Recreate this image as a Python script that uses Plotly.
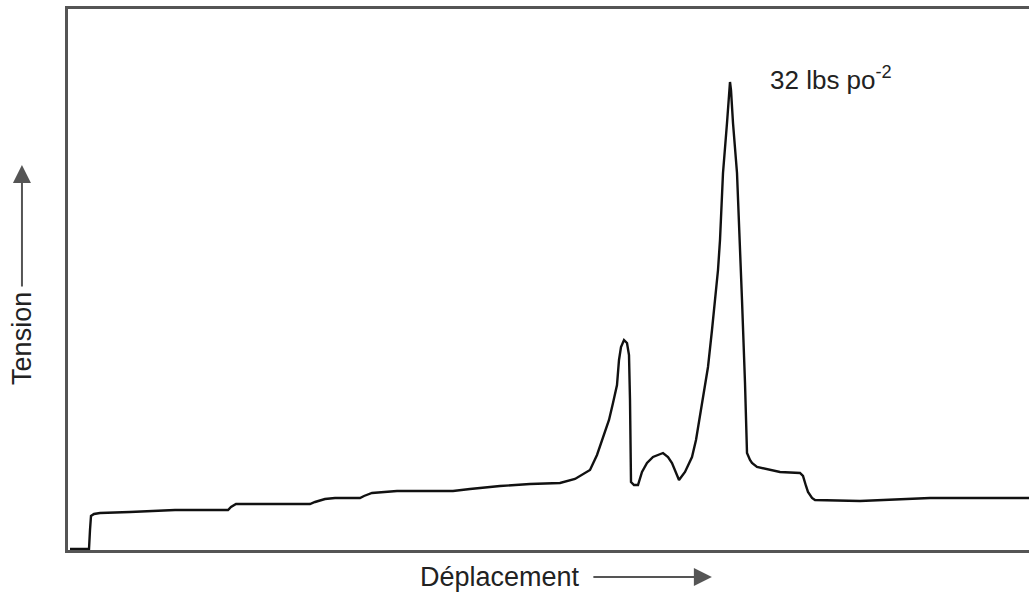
import plotly.graph_objects as go

# Displacement (arbitrary units) and tension (arbitrary units)
displacement = [0.2, 2.1, 2.2, 2.3, 2.6, 3.2, 6.2, 8.2, 10.7, 13.2, 16.0, 16.3, 16.8, 19.2, 22.2,
                24.2, 24.7, 25.7, 26.7, 29.2, 29.6, 30.4, 32.9, 36.2, 38.5, 40.2, 43.2, 46.2,
                49.2, 50.7, 52.2, 52.9, 53.5, 54.1, 54.5, 54.9, 55.1, 55.3, 55.6, 55.9, 56.1,
                56.2, 56.3, 56.6, 57.0, 57.4, 57.9, 58.5, 59.5, 60.0, 60.4, 60.8, 61.1, 61.7,
                62.4, 62.8, 63.2, 63.6, 64.0, 64.4, 64.7, 65.0, 65.2, 65.5, 65.9, 66.1, 66.2,
                66.3, 66.5, 66.9, 67.2, 67.4, 67.7, 67.9, 68.2, 68.4, 68.9, 70.2, 71.2, 73.2,
                73.5, 73.8, 74.0, 74.4, 74.7, 79.2, 81.5, 83.2, 86.2, 96.1]
tension = [0.1, 0.1, 2.0, 3.4, 3.6, 3.7, 3.8, 3.9, 4.0, 4.0, 4.0, 4.3, 4.6, 4.6, 4.6,
           4.6, 4.8, 5.1, 5.2, 5.2, 5.4, 5.7, 5.9, 5.9, 5.9, 6.1, 6.4, 6.6,
           6.7, 7.1, 8.0, 9.5, 11.3, 13.0, 14.7, 16.5, 19.0, 20.3, 21.0, 20.7, 19.5,
           15.0, 6.8, 6.5, 6.5, 7.8, 8.7, 9.3, 9.7, 9.3, 8.7, 7.8, 7.0, 7.8,
           9.3, 11.0, 13.3, 15.8, 18.3, 22.0, 25.0, 28.0, 31.0, 37.7, 42.7, 46.0, 46.8,
           46.0, 42.7, 37.7, 31.0, 25.0, 16.7, 9.7, 9.0, 8.7, 8.3, 8.0, 7.8, 7.7,
           7.4, 6.4, 5.8, 5.2, 5.0, 4.9, 5.0, 5.0, 5.2, 5.2]

x_title = "Déplacement"
y_title = "Tension"
peak_label = "32 lbs po<sup>-2</sup>"

FONT = "Liberation Sans, Arial, Helvetica, sans-serif"
FRAME = "#555555"
TXT = "#222222"

fig = go.Figure()
fig.add_trace(go.Scatter(x=displacement, y=tension, mode="lines",
                         line=dict(color="#111111", width=2.4), hoverinfo="skip"))

fig.update_layout(
    width=1029, height=605,
    margin=dict(l=68, r=0, t=9, b=55),
    paper_bgcolor="white", plot_bgcolor="white",
    showlegend=False,
    xaxis=dict(range=[0, 96.1], showgrid=False, zeroline=False, showticklabels=False,
               ticks="", showline=True, linecolor=FRAME, linewidth=3, mirror=True),
    yaxis=dict(range=[0, 54.1], showgrid=False, zeroline=False, showticklabels=False,
               ticks="", showline=True, linecolor=FRAME, linewidth=3, mirror=False),
    font=dict(family=FONT, color=TXT),
)

# peak label
fig.add_annotation(xref="paper", yref="paper", x=0.7284, y=0.872, xanchor="left", yanchor="middle",
                   text=peak_label, showarrow=False, font=dict(size=26, family=FONT, color=TXT))

# x axis title and arrow
fig.add_annotation(xref="paper", yref="paper", x=0.4495, y=-0.050, xanchor="center", yanchor="middle",
                   text=x_title, showarrow=False, font=dict(size=27, family=FONT, color=TXT))
fig.add_annotation(xref="paper", yref="paper", x=0.670, y=-0.050, ax=-120, ay=0, text="",
                   showarrow=True, arrowhead=2, arrowsize=1.8, arrowwidth=2, arrowcolor="#555555")

# y axis title and arrow
fig.add_annotation(xref="paper", yref="paper", x=-0.0479, y=0.392, xanchor="center", yanchor="middle",
                   text=y_title, textangle=-90, showarrow=False,
                   font=dict(size=27, family=FONT, color=TXT))
fig.add_annotation(xref="paper", yref="paper", x=-0.0479, y=0.7116, ax=0, ay=123, text="",
                   showarrow=True, arrowhead=2, arrowsize=1.8, arrowwidth=2, arrowcolor="#555555")

fig.write_html("out.html")
